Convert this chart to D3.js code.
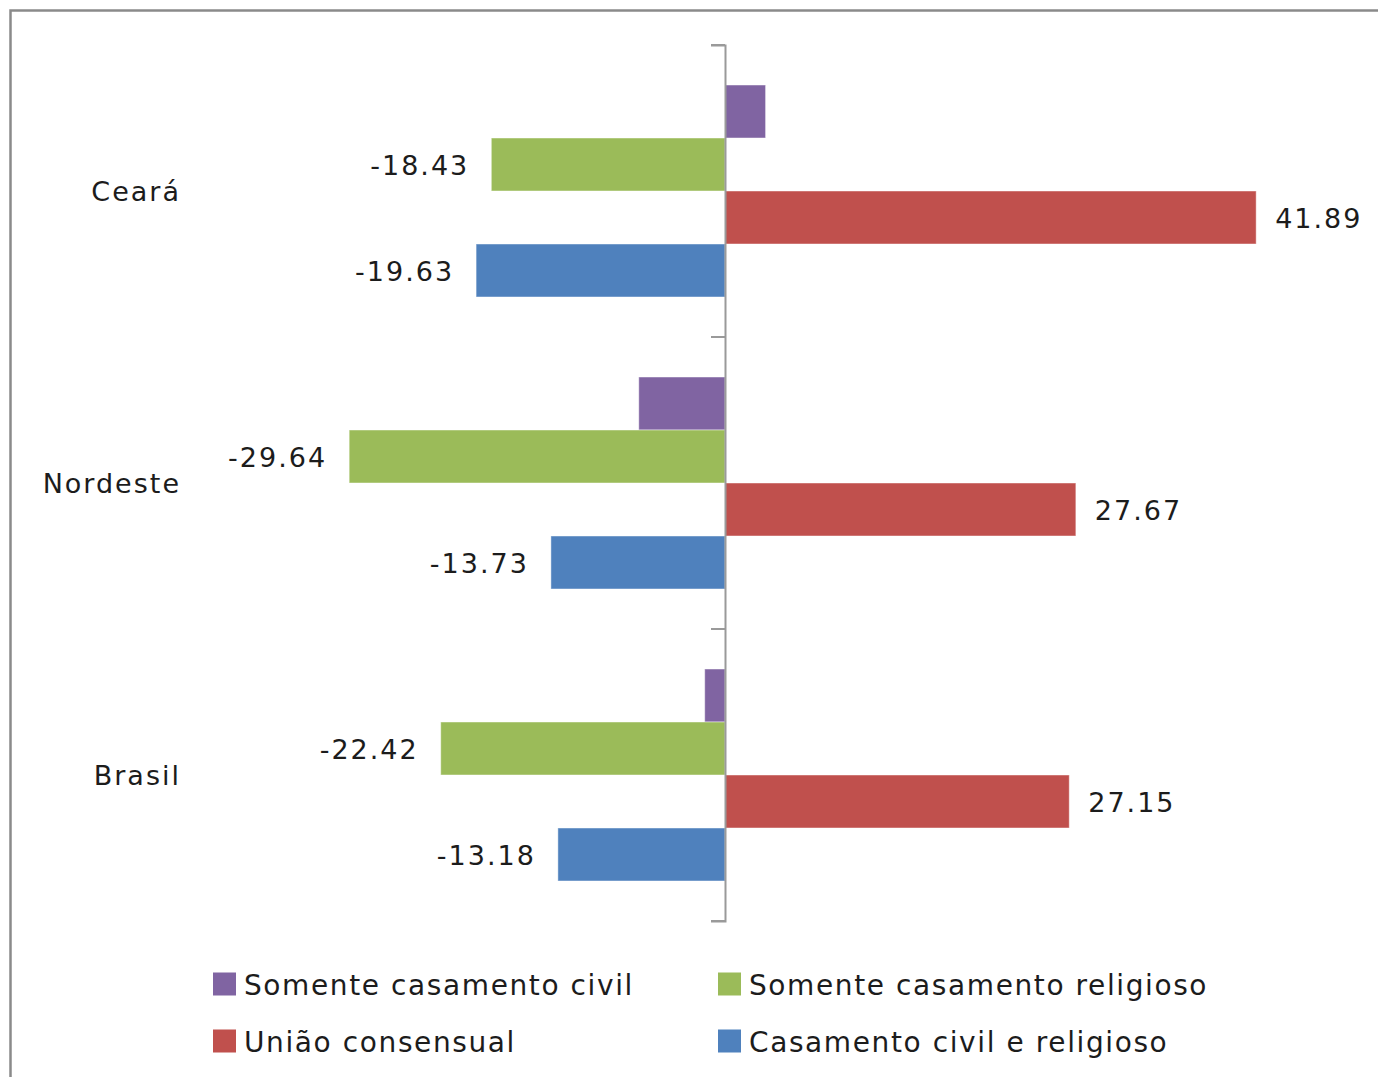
<!DOCTYPE html>
<html>
<head>
<meta charset="utf-8">
<script src="https://cdn.jsdelivr.net/npm/d3@7"></script>
<style>
  html, body { margin: 0; padding: 0; background: #fff; }
  svg { display: block; }
  text { font-family: "DejaVu Sans", sans-serif; fill: #1c1c1c; }
</style>
</head>
<body>
<svg id="chart" width="1378" height="1077"></svg>
<script>
// ---- data ----
const categories = ["Ceará", "Nordeste", "Brasil"];
const seriesNames = ["Somente casamento civil", "Somente casamento religioso", "União consensual", "Casamento civil e religioso"];
const seriesColors = ["#8064A2", "#9BBB59", "#C0504D", "#4F81BD"];
const civil      = [3.2, -6.8, -1.6];
const religioso  = [-18.43, -29.64, -22.42];
const consensual = [41.89, 27.67, 27.15];
const civilRelig = [-19.63, -13.73, -13.18];
const showLabel  = [false, true, true, true];

const seriesValues = [civil, religioso, consensual, civilRelig];

const svg = d3.select("#chart");
const fmt = d3.formatLocale({decimal: ".", thousands: ",", grouping: [3], currency: ["", ""], minus: "-"}).format(".2f");

// frame
svg.append("rect")
  .attr("x", 10.5).attr("y", 10.5)
  .attr("width", 1400).attr("height", 1100)
  .attr("fill", "none").attr("stroke", "#8a8a8a").attr("stroke-width", 2.5);

const zeroX = 725, pxPerUnit = 12.68;
const x = d3.scaleLinear().domain([-35, 50]).range([zeroX - 35 * pxPerUnit, zeroX + 50 * pxPerUnit]);
const y0 = d3.scaleBand().domain(categories).range([45, 921]).paddingInner(0).paddingOuter(0);
const y1 = d3.scaleBand().domain(seriesNames).range([0, y0.bandwidth()]).paddingInner(0).paddingOuter(0.755);

const rows = [];
categories.forEach((c, ci) => {
  seriesNames.forEach((s, si) => {
    rows.push({cat: c, series: s, si: si, value: seriesValues[si][ci]});
  });
});

// bars
svg.append("g").selectAll("rect").data(rows).join("rect")
  .attr("x", d => Math.min(x(0), x(d.value)))
  .attr("y", d => y0(d.cat) + y1(d.series))
  .attr("width", d => Math.abs(x(d.value) - x(0)))
  .attr("height", y1.bandwidth())
  .attr("fill", d => seriesColors[d.si])
  .attr("stroke", "rgba(255,255,255,0.45)")
  .attr("stroke-width", 1);

// axis
const axis = d3.axisLeft(y0).tickSize(14).tickFormat("").tickSizeOuter(14);
const axisG = svg.append("g").attr("transform", `translate(${x(0)},0)`).call(axis);
axisG.select(".domain").attr("stroke", "#9a9a9a").attr("stroke-width", 2);
// ticks at band boundaries
axisG.selectAll(".tick").remove();
const bounds = categories.map(c => y0(c)).concat([y0.range()[1]]);
axisG.selectAll("line.bnd").data(bounds).join("line")
  .attr("class", "bnd")
  .attr("x1", -14).attr("x2", 0)
  .attr("y1", d => d).attr("y2", d => d)
  .attr("stroke", "#9a9a9a").attr("stroke-width", 2);

// category labels
svg.append("g").selectAll("text").data(categories).join("text")
  .attr("x", 181)
  .attr("y", d => y0(d) + y0.bandwidth() / 2)
  .attr("text-anchor", "end")
  .attr("dominant-baseline", "central")
  .attr("font-size", 27)
  .attr("letter-spacing", 2)
  .text(d => d);

// data labels
svg.append("g").selectAll("text").data(rows.filter(d => showLabel[d.si])).join("text")
  .attr("x", d => d.value < 0 ? x(d.value) - 22 : x(d.value) + 19)
  .attr("y", d => y0(d.cat) + y1(d.series) + y1.bandwidth() / 2 + 1)
  .attr("text-anchor", d => d.value < 0 ? "end" : "start")
  .attr("dominant-baseline", "central")
  .attr("font-size", 27)
  .attr("letter-spacing", 2)
  .text(d => fmt(d.value));

// legend
const legendPos = [[213, 984], [718, 984], [213, 1041], [718, 1041]];
const lg = svg.append("g").selectAll("g").data(seriesNames).join("g")
  .attr("transform", (d, i) => `translate(${legendPos[i][0]},${legendPos[i][1]})`);
lg.append("rect")
  .attr("x", 0).attr("y", -11.5).attr("width", 23).attr("height", 23)
  .attr("fill", (d, i) => seriesColors[i]);
lg.append("text")
  .attr("x", 31).attr("y", 1)
  .attr("dominant-baseline", "central")
  .attr("font-size", 28)
  .attr("letter-spacing", 1.6)
  .text(d => d);
</script>
</body>
</html>
